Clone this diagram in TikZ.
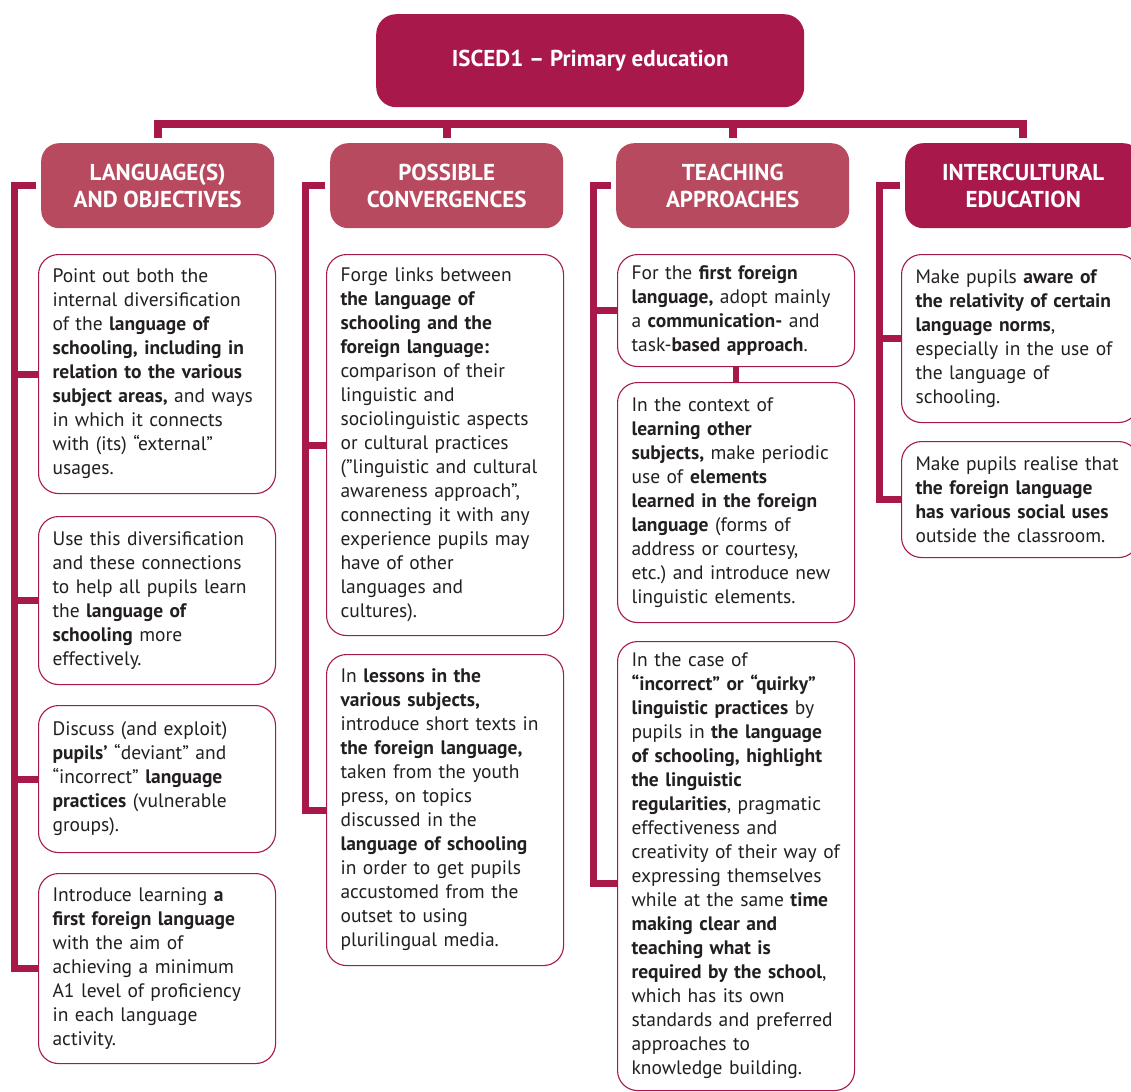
\documentclass[tikz,border=0pt]{standalone}
\usepackage{fontspec}
\setmainfont{PT Sans}

\definecolor{crimson}{HTML}{A8184B}
\definecolor{rosewood}{HTML}{B84A60}
\definecolor{inkgray}{HTML}{231F20}

\begin{document}
\begin{tikzpicture}[x=1pt, y=-1pt,
	topbox/.style={fill=crimson, rounded corners=20pt, text=white, anchor=north west,
		minimum width=428pt, minimum height=93pt, inner sep=0pt,
		font=\fontsize{23}{27}\selectfont\bfseries},
	headbox/.style={fill=rosewood, rounded corners=18pt, text=white, anchor=north west,
		align=center, minimum width=233pt, minimum height=85pt, inner sep=0pt,
		font=\fontsize{23}{27}\selectfont\bfseries},
	textbox/.style={draw=crimson, line width=1.1pt, rounded corners=20pt, fill=white,
		text=inkgray, anchor=north west, align=left, text width=209pt,
		inner xsep=14pt, inner ysep=0pt, font=\fontsize{19.5}{24}\selectfont},
	trunk/.style={draw=crimson, line width=8pt},
	bracket/.style={draw=crimson, line width=7pt}]

	\useasboundingbox (0,0) rectangle (1131,1091);

	\node (top) at (376, 14) [topbox] {ISCED1 -- Primary education};

	\node (h1) at (41, 143) [headbox] {LANGUAGE(S)\\AND OBJECTIVES};
	\node (h2) at (330, 143) [headbox] {POSSIBLE\\CONVERGENCES};
	\node (h3) at (616, 143) [headbox] {TEACHING\\APPROACHES};
	\node (h4) at (905, 143) [headbox, fill=crimson, minimum width=236pt] {INTERCULTURAL\\EDUCATION};

	\coordinate (bar) at (0, 124);

	\draw
		[trunk] ([yshift=5pt]h1.north) |- (bar -| h4.north) -- ([yshift=5pt]h4.north);

	\foreach \h in {h2, h3}
		\draw
			[trunk] ([yshift=5pt]\h.north) -- (bar -| \h.north);

	\node (a1) at (38, 254) [textbox, minimum height=239pt]
		{Point out both the\\
		internal diversification\\
		of the \textbf{language of}\\
		\textbf{schooling, including in}\\
		\textbf{relation to the various}\\
		\textbf{subject areas,} and ways\\
		in which it connects\\
		with (its) “external”\\
		usages.};
	\node (a2) at (38, 516) [textbox, minimum height=168pt]
		{Use this diversification\\
		and these connections\\
		to help all pupils learn\\
		the \textbf{language of}\\
		\textbf{schooling} more\\
		effectively.};
	\node (a3) at (38, 705) [textbox, minimum height=147pt]
		{Discuss (and exploit)\\
		\textbf{pupils’} “deviant” and\\
		“incorrect” \textbf{language}\\
		\textbf{practices} (vulnerable\\
		groups).};
	\node (a4) at (38, 873) [textbox, minimum height=190pt]
		{Introduce learning \textbf{a}\\
		\textbf{first foreign language}\\
		with the aim of\\
		achieving a minimum\\
		A1 level of proficiency\\
		in each language\\
		activity.};

	\node (b1) at (326, 254) [textbox, minimum height=381pt]
		{Forge links between\\
		\textbf{the language of}\\
		\textbf{schooling and the}\\
		\textbf{foreign language:}\\
		comparison of their\\
		linguistic and\\
		sociolinguistic aspects\\
		or cultural practices\\
		(”linguistic and cultural\\
		awareness approach”,\\
		connecting it with any\\
		experience pupils may\\
		have of other\\
		languages and\\
		cultures).};
	\node (b2) at (326, 654) [textbox, minimum height=311pt]
		{In \textbf{lessons in the}\\
		\textbf{various subjects,}\\
		introduce short texts in\\
		\textbf{the foreign language,}\\
		taken from the youth\\
		press, on topics\\
		discussed in the\\
		\textbf{language of schooling}\\
		in order to get pupils\\
		accustomed from the\\
		outset to using\\
		plurilingual media.};

	\node (c1) at (617, 254) [textbox, minimum height=112pt]
		{For the \textbf{first foreign}\\
		\textbf{language,} adopt mainly\\
		a \textbf{communication-} and\\
		task-\textbf{based approach}.};
	\node (c2) at (617, 382) [textbox, minimum height=240pt]
		{In the context of\\
		\textbf{learning other}\\
		\textbf{subjects,} make periodic\\
		use of \textbf{elements}\\
		\textbf{learned in the foreign}\\
		\textbf{language} (forms of\\
		address or courtesy,\\
		etc.)\ and introduce new\\
		linguistic elements.};
	\node (c3) at (617, 641) [textbox, minimum height=449pt]
		{In the case of\\
		\textbf{“incorrect” or “quirky”}\\
		\textbf{linguistic practices} by\\
		pupils in \textbf{the language}\\
		\textbf{of schooling, highlight}\\
		\textbf{the linguistic}\\
		\textbf{regularities}, pragmatic\\
		effectiveness and\\
		creativity of their way of\\
		expressing themselves\\
		while at the same \textbf{time}\\
		\textbf{making clear and}\\
		\textbf{teaching what is}\\
		\textbf{required by the school},\\
		which has its own\\
		standards and preferred\\
		approaches to\\
		knowledge building.};

	\node (d1) at (901, 254) [textbox, minimum height=168pt]
		{Make pupils \textbf{aware of}\\
		\textbf{the relativity of certain}\\
		\textbf{language norms},\\
		especially in the use of\\
		the language of\\
		schooling.};
	\node (d2) at (901, 441) [textbox, minimum height=116pt]
		{Make pupils realise that\\
		\textbf{the foreign language}\\
		\textbf{has various social uses}\\
		outside the classroom.};

	\coordinate (s1) at (14, 0);
	\coordinate (s2) at (305, 0);
	\coordinate (s3) at (593, 0);
	\coordinate (s4) at (879, 0);

	\draw
		[bracket] ([xshift=-5pt]h1.west) -- (s1 |- h1.west) |- (a4.west);
	\foreach \b in {a1, a2, a3}
		\draw
			[bracket] (\b.west) -- (s1 |- \b.west);

	\draw
		[bracket] ([xshift=-5pt]h2.west) -- (s2 |- h2.west) |- (b2.west);
	\draw
		[bracket] (b1.west) -- (s2 |- b1.west);

	\draw
		[bracket] ([xshift=-5pt]h3.west) -- (s3 |- h3.west) |- ([yshift=-17pt]c3.west);
	\draw
		[bracket] (c1.west) -- (s3 |- c1.west);
	\draw
		[bracket, line width=6pt] (c1.south) -- (c2.north);

	\draw
		[bracket] ([xshift=-5pt]h4.west) -- (s4 |- h4.west) |- (d2.west);
	\draw
		[bracket] (d1.west) -- (s4 |- d1.west);
\end{tikzpicture}
\end{document}
